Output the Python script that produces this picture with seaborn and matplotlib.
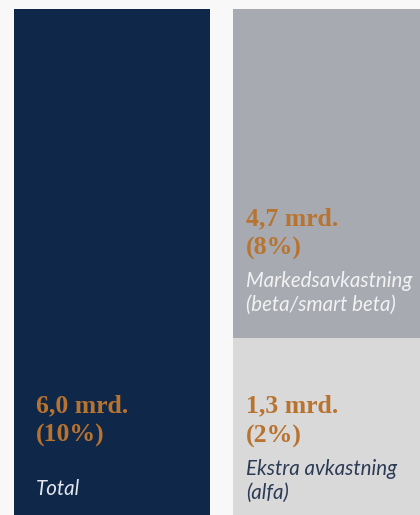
import matplotlib
matplotlib.use("Agg")
import matplotlib.pyplot as plt
import seaborn as sns
import pandas as pd

# Data (bar heights as drawn in the picture, labels as printed)
bars = ["Total", "Fordeling"]
total_height = [6.0, 6.0]
alpha_height = [0.0, 2.1]   # lower segment of the right bar
value_labels = ["6,0 mrd.", "4,7 mrd.", "1,3 mrd."]
pct_labels = ["(10%)", "(8%)", "(2%)"]
name_labels = [["Total"], ["Markedsavkastning", "(beta/smart beta)"],
               ["Ekstra avkastning", "(alfa)"]]

navy = "#0f2748"
gray = "#a7aab1"
light = "#d9d9d9"
orange = "#b8732f"
bg = "#f8f8f8"

sns.set_theme(style="white")
W, H = 420, 515
fig = plt.figure(figsize=(W / 100, H / 100), dpi=100, facecolor=bg)
ax = fig.add_axes([0, 0, 1, 1])
ax.set_facecolor(bg)

df = pd.DataFrame({"bar": bars, "total": total_height})
sns.barplot(data=df, x="bar", y="total", hue="bar", palette=[navy, gray],
            width=0.895, legend=False, ax=ax, linewidth=0, saturation=1)
df2 = pd.DataFrame({"bar": bars, "alpha": alpha_height})
sns.barplot(data=df2, x="bar", y="alpha", hue="bar", palette=[light, light],
            width=0.895, legend=False, ax=ax, linewidth=0, saturation=1)

ax.set_xlim(-112 / 219, (W - 112) / 219)
ax.set_ylim(0, 6.0 * H / 506)
ax.axis("off")


def px(x, y):
    return x / W, 1 - y / H


serif = dict(family="Liberation Serif", fontweight="bold", fontsize=18.5, color=orange,
             transform=ax.transAxes, va="baseline", ha="left")
italic = dict(family="Lato", fontstyle="italic", fontweight="normal", fontsize=14.8,
              transform=ax.transAxes, va="baseline", ha="left")

# (x, value baseline, pct baseline, first name baseline, name colour)
spots = [(36, 412, 442, 495, "#e4e6ee"),
         (246, 225, 255, 287, "#f2f2f2"),
         (246, 412, 443, 475, "#2b3a55")]

for i, (x, yv, yp, yn, col) in enumerate(spots):
    ax.text(*px(x, yv), value_labels[i], **serif)
    ax.text(*px(x, yp), pct_labels[i], **serif)
    for j, line in enumerate(name_labels[i]):
        ax.text(*px(x, yn + 24 * j), line, color=col, **italic)

fig.savefig("out.png", dpi=100, facecolor=bg)
